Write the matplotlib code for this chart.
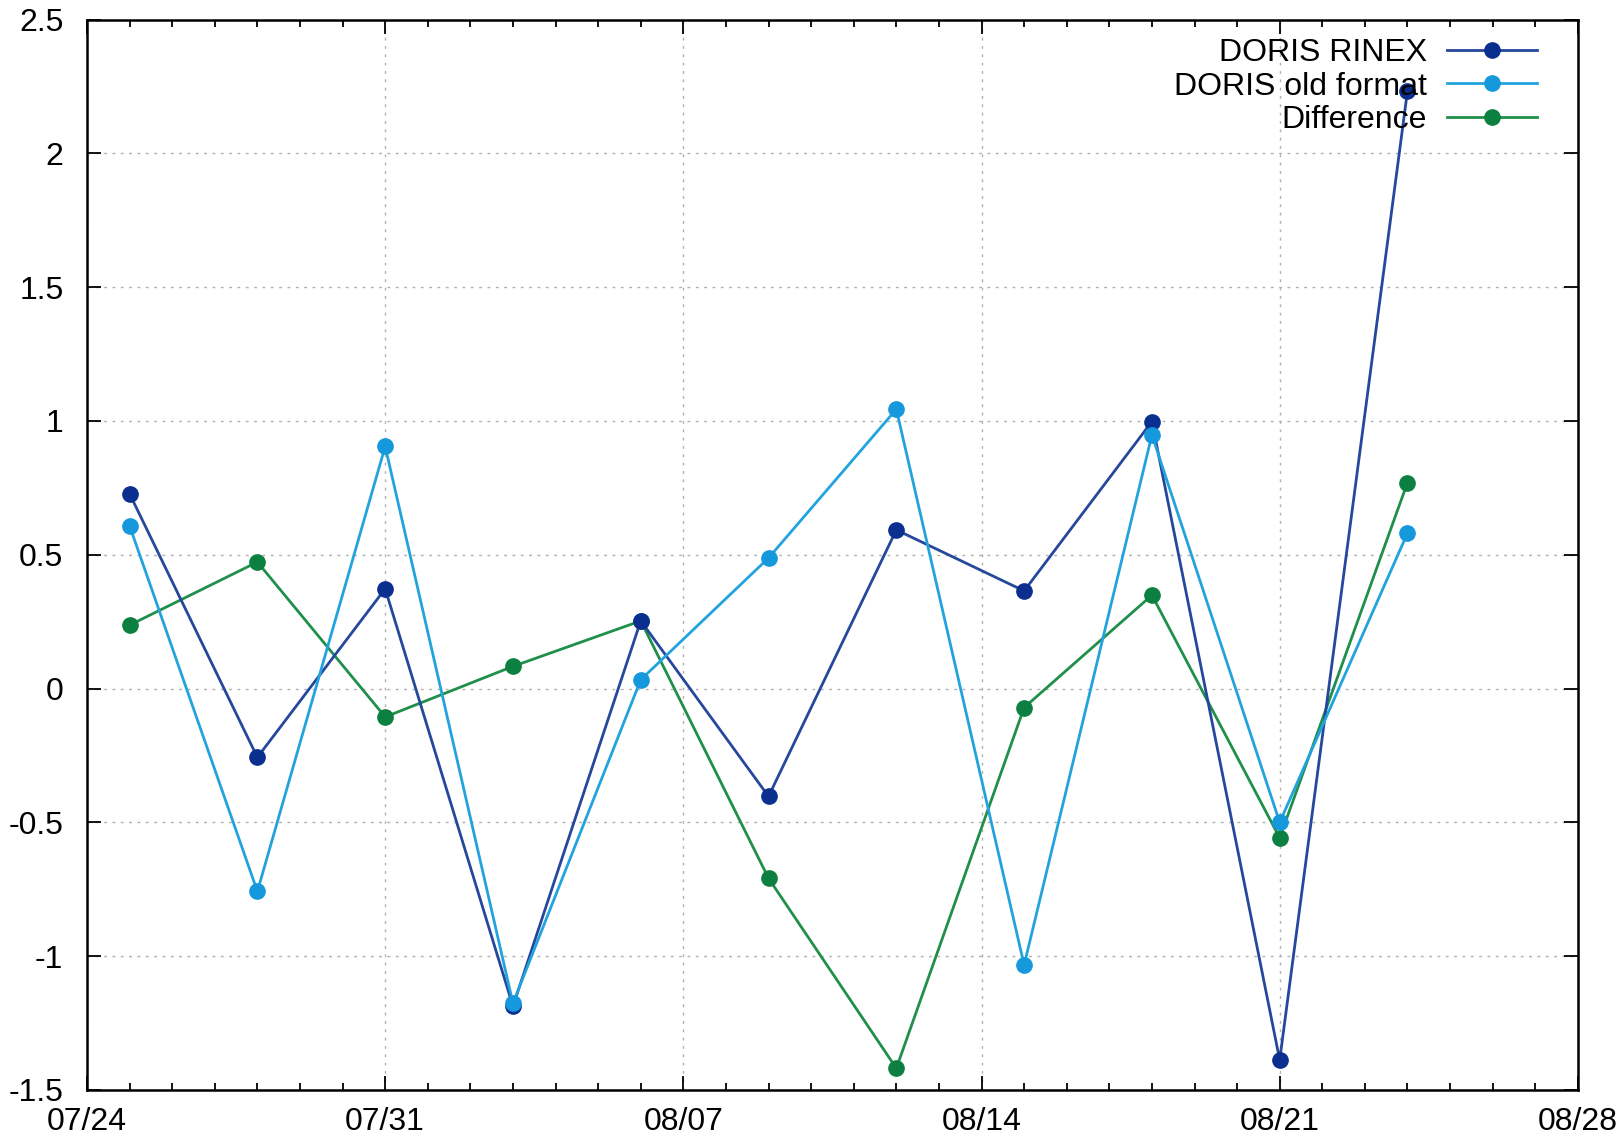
import matplotlib
matplotlib.use('Agg')
import matplotlib.pyplot as plt
import matplotlib.dates as mdates
from matplotlib.ticker import FixedLocator
from datetime import datetime, timedelta

# solution epochs (every third day)
dates = ['2021-07-25', '2021-07-28', '2021-07-31', '2021-08-03', '2021-08-06', '2021-08-09',
         '2021-08-12', '2021-08-15', '2021-08-18', '2021-08-21', '2021-08-24']

rinex = [0.728, -0.257, 0.373, -1.187, 0.253, -0.403, 0.593, 0.365, 0.998, -1.388, 2.234]
old_format = [0.608, -0.758, 0.905, -1.176, 0.033, 0.488, 1.044, -1.033, 0.948, -0.500, 0.581]
difference = [0.237, 0.473, -0.106, 0.083, 0.253, -0.709, -1.419, -0.071, 0.349, -0.558, 0.770]

x_start = datetime(2021, 7, 24)
x_end = datetime(2021, 8, 28)
y_ticks = [-1.5, -1, -0.5, 0, 0.5, 1, 1.5, 2, 2.5]

plt.rcParams['font.family'] = ['Liberation Sans', 'DejaVu Sans']
plt.rcParams['font.size'] = 23

t = [datetime.strptime(d, '%Y-%m-%d') for d in dates]

fig = plt.figure(figsize=(16.2, 11.4), dpi=100)
ax = fig.add_axes([0.0537, 0.0439, 0.9203, 0.9389])

ax.plot(t, rinex, '-o', color='#25479c', mfc='#0b2f8f', mec='#0b2f8f', lw=2.0, ms=11, label='DORIS RINEX', zorder=3)
ax.plot(t, old_format, '-o', color='#22a3de', mfc='#1598dc', mec='#1598dc', lw=2.0, ms=11, label='DORIS old format', zorder=4)
ax.plot(t, difference, '-o', color='#1f8f4a', mfc='#0c8040', mec='#0c8040', lw=2.0, ms=11, label='Difference', zorder=2)

ax.set_xlim(x_start, x_end)
ax.set_ylim(-1.5, 2.5)
ax.set_yticks(y_ticks)
ax.set_yticklabels(['%g' % v for v in y_ticks])

major = [mdates.date2num(x_start + timedelta(days=7 * i)) for i in range(6)]
ax.xaxis.set_major_locator(FixedLocator(major))
ax.xaxis.set_minor_locator(mdates.DayLocator(interval=1))
ax.xaxis.set_major_formatter(mdates.DateFormatter('%m/%d'))

ax.tick_params(which='both', direction='in', top=True, right=True, width=1.3)
ax.tick_params(which='major', length=10)
ax.tick_params(which='minor', length=5)
ax.tick_params(axis='x', which='major', pad=12)
ax.tick_params(axis='y', which='major', pad=17)
for s in ax.spines.values():
    s.set_linewidth(1.8)

ax.grid(True, which='major', linestyle=(0, (2, 4)), color='#b0b0b0', linewidth=1.0)
ax.set_axisbelow(True)

ax.legend(loc='upper right', bbox_to_anchor=(0.9725, 0.983), frameon=False,
          markerfirst=False, handlelength=2.8, handletextpad=0.65,
          labelspacing=0.12, borderaxespad=0, borderpad=0)

fig.savefig('out.png', dpi=100)
